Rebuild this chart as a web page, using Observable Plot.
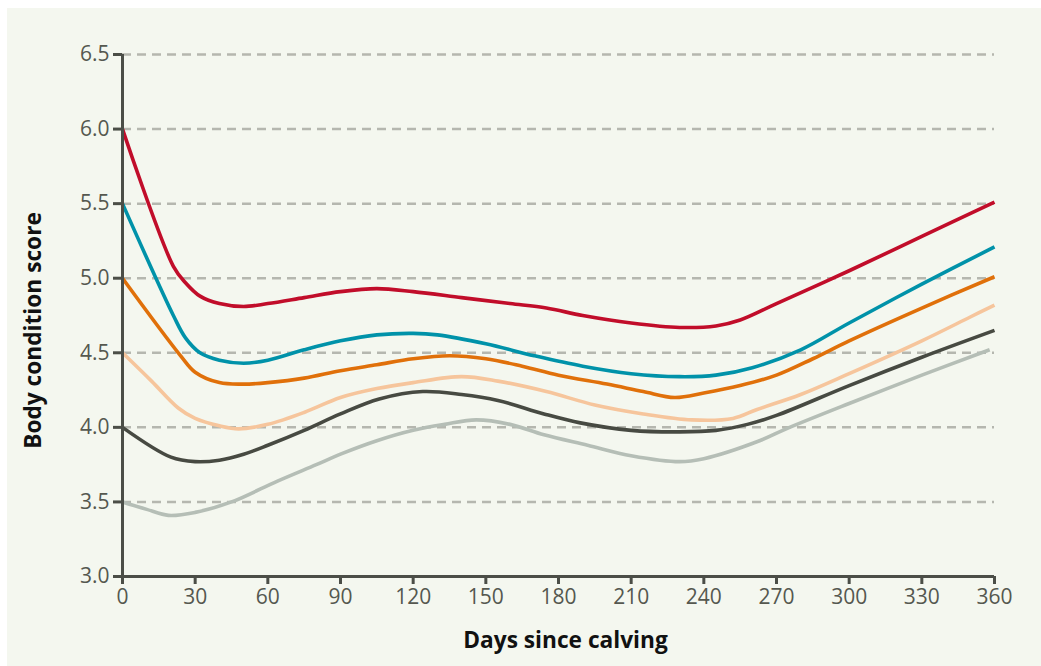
<!DOCTYPE html>
<html><head><meta charset="utf-8">
<script src="https://cdn.jsdelivr.net/npm/d3@7"></script>
<script src="https://cdn.jsdelivr.net/npm/@observablehq/plot@0.6"></script>
<style>
html,body{margin:0;padding:0;background:#fff;}
#panel{position:absolute;left:7px;top:8px;width:1034px;height:658px;background:#f4f7ef;}
#panel svg{display:block;}
</style></head><body><div id="panel"></div>
<script>
const xTicks = [0, 30, 60, 90, 120, 150, 180, 210, 240, 270, 300, 330, 360];
const yTicks = [3.0, 3.5, 4.0, 4.5, 5.0, 5.5, 6.0, 6.5];
const gridTicks = [3.5, 4.0, 4.5, 5.0, 5.5, 6.0, 6.5];
const xLabel = "Days since calving";
const yLabel = "Body condition score";

const red = [[0,6.0],[21,5.08],[26,4.97],[32,4.88],[40,4.83],[50,4.81],[60,4.83],[75,4.87],[90,4.91],[105,4.93],[120,4.91],[140,4.87],[160,4.83],[175,4.80],[190,4.75],[210,4.70],[230,4.67],[245,4.68],[255,4.72],[270,4.83],[300,5.05],[330,5.28],[360,5.51]];
const teal = [[0,5.5],[21,4.75],[26,4.60],[32,4.50],[40,4.45],[50,4.43],[60,4.45],[75,4.52],[90,4.58],[105,4.62],[120,4.63],[130,4.62],[150,4.56],[170,4.48],[190,4.41],[210,4.36],[230,4.34],[245,4.35],[260,4.40],[280,4.52],[300,4.70],[330,4.96],[360,5.21]];
const orange = [[0,5.0],[24,4.48],[30,4.37],[40,4.30],[50,4.29],[60,4.30],[75,4.33],[90,4.38],[105,4.42],[120,4.46],[135,4.48],[150,4.46],[165,4.41],[180,4.35],[200,4.29],[215,4.24],[228,4.20],[240,4.23],[255,4.28],[270,4.35],[285,4.46],[300,4.58],[330,4.80],[360,5.01]];
const peach = [[0,4.5],[12,4.31],[23,4.13],[30,4.06],[40,4.01],[48,3.99],[60,4.02],[75,4.10],[90,4.20],[105,4.26],[120,4.30],[140,4.34],[155,4.31],[175,4.24],[195,4.15],[215,4.09],[235,4.05],[252,4.06],[262,4.12],[280,4.22],[300,4.36],[330,4.58],[350,4.74],[360,4.82]];
const dark = [[0,4.0],[20,3.80],[30,3.77],[40,3.78],[50,3.82],[60,3.88],[75,3.98],[90,4.09],[106,4.19],[124,4.24],[140,4.22],[155,4.18],[174,4.09],[189,4.03],[210,3.98],[230,3.97],[245,3.98],[258,4.02],[270,4.08],[300,4.28],[330,4.47],[360,4.65]];
const gray = [[0,3.5],[10,3.45],[19,3.41],[30,3.43],[45,3.50],[64,3.64],[80,3.75],[90,3.82],[105,3.91],[120,3.98],[133,4.02],[146,4.05],[160,4.02],[174,3.95],[192,3.88],[210,3.81],[230,3.77],[240,3.79],[263,3.91],[274,3.99],[300,4.16],[330,4.35],[358,4.52]];

const series = [
  {data: gray, color: "#b5beb6"},
  {data: dark, color: "#474a42"},
  {data: peach, color: "#f6c59c"},
  {data: orange, color: "#e0700a"},
  {data: teal, color: "#0092a9"},
  {data: red, color: "#c10d2a"}
];

const axisColor = "#4b4e47";
const lineMarks = series.map(s => Plot.line(s.data, {
  x: d => d[0], y: d => d[1], curve: "catmull-rom",
  stroke: s.color, strokeWidth: 3.6, strokeLinecap: "butt", strokeLinejoin: "round"
}));

const chart = Plot.plot({
  width: 1034, height: 658,
  marginLeft: 115, marginRight: 47, marginTop: 46, marginBottom: 90,
  x: {domain: [0, 360]},
  y: {domain: [3, 6.5]},
  style: {background: "transparent", fontFamily: "'Open Sans', sans-serif", fontSize: "21px", color: axisColor, overflow: "visible"},
  marks: [
    Plot.gridY(gridTicks, {stroke: "#b5b7af", strokeOpacity: 1, strokeWidth: 2.5, strokeDasharray: "9,6"}),
    Plot.axisX(xTicks, {tickSize: 8, tickPadding: 5, label: null, strokeWidth: 3, fill: "#55584f", tickFormat: d => String(d)}),
    Plot.axisY(yTicks, {tickSize: 9, tickPadding: 4, label: null, strokeWidth: 3, fill: "#55584f", tickFormat: d => d.toFixed(1)}),
    ...lineMarks,
    Plot.ruleX([0], {stroke: axisColor, strokeWidth: 3}),
    Plot.ruleY([3], {stroke: axisColor, strokeWidth: 3}),
    Plot.text([yLabel], {frameAnchor: "left", textAnchor: "middle", lineAnchor: "middle", rotate: -90, dx: -89, dy: 15, fontWeight: "bold", fontSize: 22.7, fill: "#111"}),
    Plot.text([xLabel], {frameAnchor: "bottom", textAnchor: "middle", lineAnchor: "middle", dx: 7, dy: 64, fontWeight: "bold", fontSize: 22.7, fill: "#111"})
  ]
});
document.getElementById("panel").appendChild(chart);
</script>
</body></html>
